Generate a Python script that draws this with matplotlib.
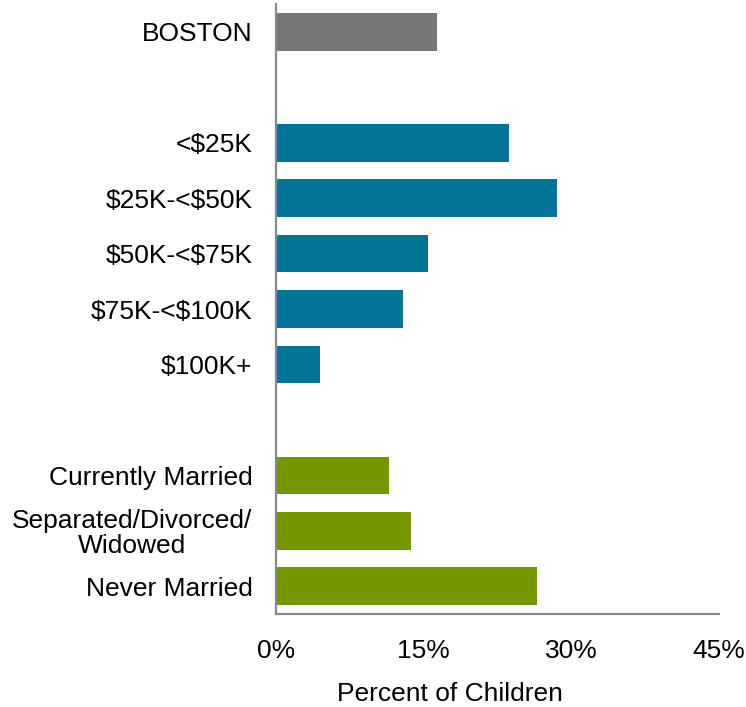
import matplotlib
matplotlib.use("Agg")

import matplotlib.pyplot as plt
import matplotlib.ticker as ticker

# Child poverty rates by family income and parental marital status
categories = [
    "BOSTON",
    "",
    "<$25K",
    "$25K-<$50K",
    "$50K-<$75K",
    "$75K-<$100K",
    "$100K+",
    "",
    "Currently Married",
    "Separated/Divorced/\nWidowed",
    "Never Married",
]
values = [16.4, None, 23.7, 28.5, 15.4, 12.9, 4.5, None, 11.5, 13.7, 26.5]
groups = ["city", None, "income", "income", "income", "income", "income",
          None, "marital", "marital", "marital"]
group_colors = {"city": "#777777", "income": "#007396", "marital": "#749700"}
x_ticks = [0, 15, 30, 45]

plt.rcParams.update({
    "font.family": ["Liberation Sans", "DejaVu Sans"],
    "font.size": 19,
    "text.parse_math": False,  # labels contain literal dollar signs
})

fig = plt.figure(figsize=(7.46, 7.07), dpi=100)
ax = fig.add_axes([0.37, 0.1315, 0.5938, 0.8628])

for i, (val, grp) in enumerate(zip(values, groups)):
    if val is None:
        continue
    ax.barh(i, val, height=0.68, color=group_colors[grp], zorder=2)

ax.set_ylim(10.5, -0.5)
ax.set_xlim(0, 45)
ax.set_yticks(range(len(categories)))
ax.set_yticklabels(categories)
for lbl in ax.get_yticklabels():
    lbl.set_multialignment("center")
    lbl.set_linespacing(1.05)
ax.set_xticks(x_ticks)
ax.xaxis.set_major_formatter(ticker.FuncFormatter(lambda v, _: f"{v:.0f}%"))
ax.tick_params(axis="y", length=0, pad=17)
ax.tick_params(axis="x", length=0, pad=18)
ax.set_xlabel("Percent of Children", labelpad=14, x=0.393, ha="center")

for side in ["top", "right"]:
    ax.spines[side].set_visible(False)
for side in ["left", "bottom"]:
    ax.spines[side].set_color("#898989")
    ax.spines[side].set_linewidth(1.6)

fig.savefig("out.png", dpi=100)
plt.close(fig)
